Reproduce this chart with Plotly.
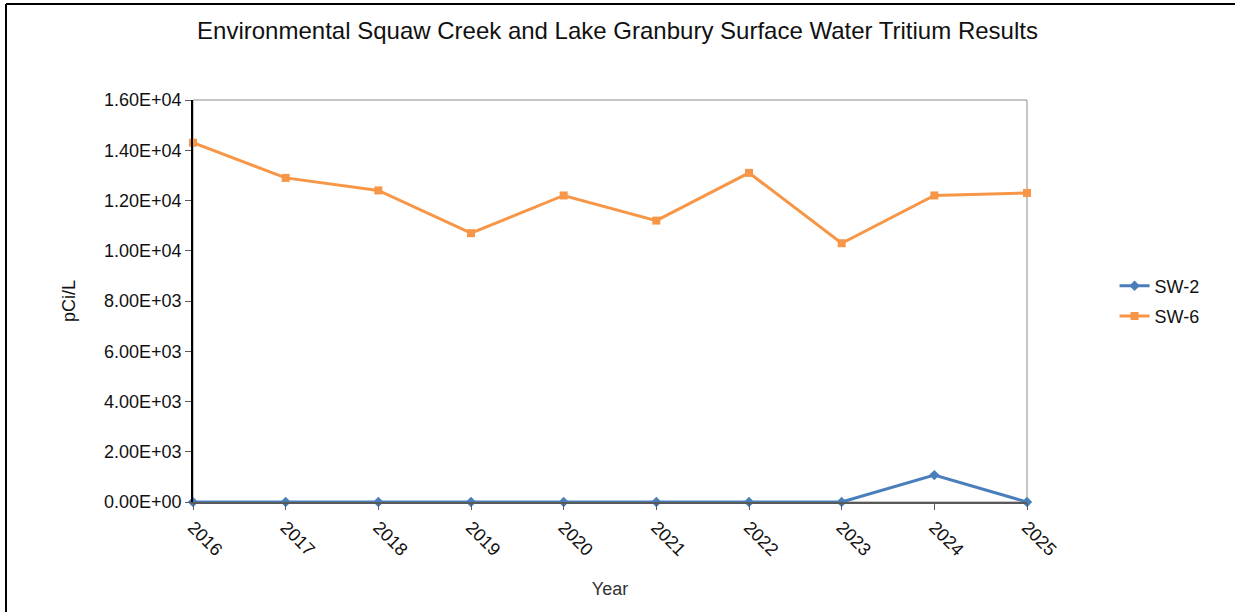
import plotly.graph_objects as go

years = [2016, 2017, 2018, 2019, 2020, 2021, 2022, 2023, 2024, 2025]
sw2 = [0, 0, 0, 0, 0, 0, 0, 0, 1070, 0]
sw6 = [14300, 12900, 12400, 10700, 12200, 11200, 13100, 10300, 12200, 12300]
ytick_vals = [0, 2000, 4000, 6000, 8000, 10000, 12000, 14000, 16000]
ytick_text = [f"{v:.2E}" for v in ytick_vals]

FONT = "Liberation Sans, Arial, sans-serif"
W, H = 1235, 612
L, R, T, B = 193, 208, 100, 110
PW, PH = W - L - R, H - T - B


def px_x(p):
    return (p - L) / PW


def px_y(p):
    return (H - B - p) / PH


fig = go.Figure()
fig.add_trace(go.Scatter(
    x=years, y=sw2, name="SW-2", mode="lines+markers", legendgroup="a",
    line=dict(color="#4A7EBB", width=3),
    marker=dict(symbol="diamond", size=8, color="#4A7EBB"),
    cliponaxis=False,
))
fig.add_trace(go.Scatter(
    x=years, y=sw6, name="SW-6", mode="lines+markers", legendgroup="b",
    line=dict(color="#F79646", width=3),
    marker=dict(symbol="square", size=8, color="#F79646"),
    cliponaxis=False,
))

fig.update_layout(
    width=W, height=H,
    margin=dict(l=L, r=R, t=T, b=B),
    paper_bgcolor="white", plot_bgcolor="white",
    font=dict(family=FONT, size=18, color="#111111"),
    title=dict(text="Environmental Squaw Creek and Lake Granbury Surface Water Tritium Results",
               x=0.5, xanchor="center", y=0.95, yanchor="middle",
               font=dict(size=24, family=FONT, color="#111111")),
    showlegend=True,
    legend=dict(x=1.105, y=0.5, xanchor="left", yanchor="middle",
                font=dict(size=18, family=FONT), bgcolor="rgba(0,0,0,0)",
                tracegroupgap=4, itemwidth=30),
    xaxis=dict(
        range=[2016, 2025], tickmode="array", tickvals=years,
        ticktext=[str(y) for y in years], tickangle=45,
        showgrid=False, zeroline=False,
        showline=True, linecolor="#595959", linewidth=1.5,
        ticks="outside", ticklen=6, tickcolor="#595959",
        tickfont=dict(size=18, family=FONT),
        title=dict(text="Year", font=dict(size=18, family=FONT, color="#333333"), standoff=24),
    ),
    yaxis=dict(
        range=[0, 16000], tickmode="array", tickvals=ytick_vals, ticktext=ytick_text,
        showgrid=False, zeroline=False,
        showline=True, linecolor="#000000", linewidth=1.5,
        ticks="outside", ticklen=6, tickcolor="#595959",
        tickfont=dict(size=18, family=FONT),
        title=dict(text="pCi/L", font=dict(size=18, family=FONT), standoff=24),
    ),
    shapes=[
        dict(type="rect", xref="paper", yref="paper", x0=0, x1=1, y0=0, y1=1,
             line=dict(color="#8C8C8C", width=1), layer="below"),
        dict(type="line", xref="paper", yref="paper",
             x0=px_x(6), x1=px_x(6), y0=px_y(4), y1=px_y(H + 2),
             line=dict(color="#000000", width=2)),
        dict(type="line", xref="paper", yref="paper",
             x0=px_x(6), x1=px_x(W + 2), y0=px_y(4), y1=px_y(4),
             line=dict(color="#000000", width=2)),
    ],
)

fig.write_html("out.html", config={"displayModeBar": False},
               post_script="document.body.style.margin='0';document.body.style.overflow='hidden';")
